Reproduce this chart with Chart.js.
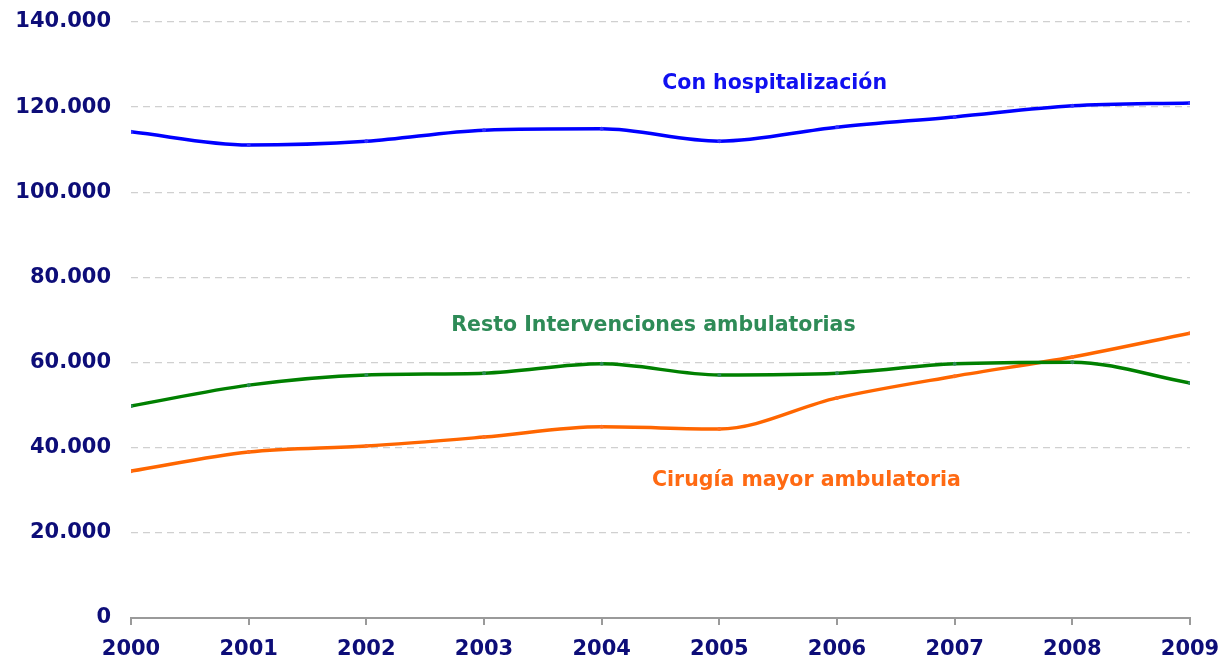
<!DOCTYPE html>
<html>
<head>
<meta charset="utf-8">
<script src="https://cdn.jsdelivr.net/npm/chart.js@4/dist/chart.umd.min.js"></script>
<style>
  html, body { margin: 0; padding: 0; background: #fff; }
  #wrap { width: 1223px; height: 658px; }
</style>
</head>
<body>
<div id="wrap"><canvas id="chart" width="1223" height="658"></canvas></div>
<script>
const years = [2000, 2001, 2002, 2003, 2004, 2005, 2006, 2007, 2008, 2009];
const conHospitalizacion = [114200, 111100, 112000, 114600, 114900, 112000, 115300, 117700, 120300, 121000];
const restoIntervenciones = [49800, 54700, 57100, 57500, 59700, 57100, 57500, 59700, 60100, 55200];
const cirugiaMayor = [34500, 39000, 40400, 42500, 44900, 44400, 51700, 56800, 61300, 66900];
const yTicks = [0, 20000, 40000, 60000, 80000, 100000, 120000, 140000];

// series labels placed in data coordinates
const seriesLabels = [
    { text: 'Con hospitalización', x: 2005.47, y: 125400, color: '#1010f0' },
    { text: 'Resto Intervenciones ambulatorias', x: 2004.44, y: 68600, color: '#2e8b57' },
    { text: 'Cirugía mayor ambulatoria', x: 2005.74, y: 32200, color: '#ff6a13' }
];

const navy = '#0d0d78';
const font = "'DejaVu Sans', Verdana, sans-serif";

function toPoints(values) {
    return years.map((yr, i) => ({ x: yr, y: values[i] }));
}

const labelPlugin = {
    id: 'seriesLabels',
    afterDatasetsDraw(chart) {
        const ctx = chart.ctx;
        const xs = chart.scales.x, ys = chart.scales.y;
        ctx.save();
        ctx.font = 'bold 20.5px ' + font;
        ctx.textAlign = 'center';
        ctx.textBaseline = 'middle';
        seriesLabels.forEach(l => {
            ctx.fillStyle = l.color;
            ctx.fillText(l.text, xs.getPixelForValue(l.x), ys.getPixelForValue(l.y));
        });
        ctx.restore();
    }
};

function lineSet(values, color, pointColor) {
    return {
        data: toPoints(values),
        borderColor: color,
        backgroundColor: pointColor,
        borderWidth: 3.5,
        pointRadius: 2,
        pointBorderWidth: 0,
        pointBackgroundColor: pointColor,
        cubicInterpolationMode: 'monotone',
        fill: false
    };
}

new Chart(document.getElementById('chart').getContext('2d'), {
    type: 'line',
    data: {
        datasets: [
            lineSet(conHospitalizacion, '#0000ff', '#3030ff'),
            lineSet(restoIntervenciones, '#008000', '#2e8b57'),
            lineSet(cirugiaMayor, '#ff6600', '#ff7020')
        ]
    },
    plugins: [labelPlugin],
    options: {
        responsive: false,
        animation: false,
        layout: { padding: { top: 22, right: 33, left: 0, bottom: 0 } },
        plugins: { legend: { display: false }, tooltip: { enabled: false } },
        scales: {
            x: {
                type: 'linear',
                min: 2000,
                max: 2009,
                afterBuildTicks: s => { s.ticks = years.map(v => ({ value: v })); },
                afterFit: s => { s.height = 40; s.paddingLeft = 0; s.paddingRight = 0; },
                border: { display: true, color: '#9a9a9a', width: 2 },
                grid: { drawOnChartArea: false, drawTicks: true, tickLength: 7, color: '#9a9a9a', lineWidth: 2 },
                ticks: {
                    color: navy,
                    font: { family: font, size: 21, weight: 'bold' },
                    padding: 12,
                    maxRotation: 0,
                    callback: v => String(v)
                }
            },
            y: {
                min: 0,
                max: 140000,
                afterBuildTicks: s => { s.ticks = yTicks.map(v => ({ value: v })); },
                afterFit: s => { s.width = 131; s.paddingTop = 0; s.paddingBottom = 0; },
                border: { display: false, dash: [7, 5] },
                grid: { color: '#d0d0d0', lineWidth: 1.3, drawTicks: false },
                ticks: {
                    color: navy,
                    font: { family: font, size: 21, weight: 'bold' },
                    padding: 20,
                    callback: v => v === 0 ? '0' : (v / 1000).toFixed(0) + '.000'
                }
            }
        }
    }
});
</script>
</body>
</html>
